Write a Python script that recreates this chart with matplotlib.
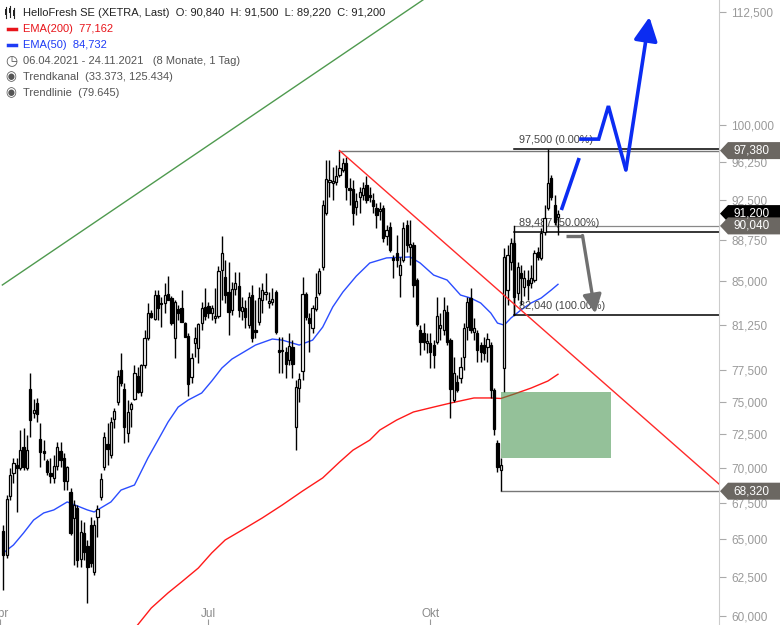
import matplotlib
matplotlib.use('Agg')
import matplotlib.pyplot as plt
from matplotlib.patches import Rectangle, Polygon
from matplotlib.lines import Line2D
from matplotlib.ticker import FixedLocator, NullLocator, FixedFormatter
import numpy as np
import pandas as pd

plt.rcParams['font.family'] = ['Liberation Sans', 'DejaVu Sans']

# trading days 06.04.2021 - 24.11.2021, first day lies left of the visible area
dates = pd.bdate_range('2021-04-06', '2021-11-24')

opens = [65.54, 63.93, 67.98, 69.62, 70.20, 69.98, 71.53, 69.98, 75.98, 74.11,
         74.89, 72.13, 71.24, 70.50, 69.62, 69.26, 70.13, 71.24, 70.72, 69.05,
         68.26, 66.44, 67.14, 63.67, 65.41, 64.54, 65.96, 62.81, 66.51, 67.91,
         70.06, 71.75, 70.94, 73.65, 74.97, 77.50, 75.98, 72.58, 74.42, 75.20,
         77.02, 75.75, 77.90, 80.12, 82.24, 81.73, 83.79, 83.10, 83.10, 83.88,
         83.53, 80.12, 82.59, 82.67, 81.38, 80.29, 76.94, 79.70, 79.29, 81.38,
         82.76, 82.84, 82.24, 81.81, 81.99, 86.00, 85.37, 84.05, 82.50, 84.32,
         84.58, 82.41, 82.67, 81.21, 83.79, 80.79, 81.47, 83.36, 83.88, 83.10,
         83.19, 84.05, 79.13, 79.05, 78.96, 78.31, 79.37, 73.04, 76.06, 77.42,
         83.88, 81.81, 80.96, 82.59, 83.97, 86.27, 91.25, 94.24, 94.14, 94.24,
         94.93, 95.43, 96.13, 93.65, 93.56, 91.83, 92.79, 92.98, 93.95, 92.98,
         92.50, 91.73, 91.44, 91.73, 89.10, 89.94, 87.08, 87.54, 85.55, 86.90,
         90.12, 88.08, 88.27, 85.11, 80.79, 80.54, 79.70, 79.70, 79.54, 79.79,
         80.96, 80.79, 82.33, 79.95, 75.12, 76.54, 76.86, 78.56, 81.04, 83.53,
         80.62, 80.54, 79.54, 79.54, 79.37, 79.54, 75.90, 71.83, 69.84, 77.66,
         84.23, 86.72, 88.46, 83.97, 85.73, 84.49, 85.11, 84.85, 85.11, 87.63,
         87.08, 89.47, 91.73, 94.63, 92.02, 90.84]
highs = [65.96, 68.05, 69.98, 70.72, 70.72, 72.81, 72.96, 72.43, 77.26, 75.20,
         75.28, 73.34, 72.05, 70.64, 70.72, 70.94, 71.90, 71.90, 71.09, 70.13,
         68.54, 67.70, 67.35, 66.30, 66.16, 64.94, 66.51, 66.30, 67.35, 69.62,
         72.66, 73.34, 73.80, 74.50, 77.50, 78.88, 76.46, 75.12, 74.97, 77.90,
         77.74, 77.98, 80.79, 83.10, 82.50, 84.23, 84.23, 83.62, 84.85, 85.46,
         83.71, 83.36, 82.93, 84.23, 81.47, 80.54, 78.88, 81.04, 81.38, 83.19,
         84.41, 83.19, 82.93, 84.41, 86.36, 89.10, 86.90, 86.72, 84.93, 85.82,
         85.82, 83.62, 83.36, 84.05, 84.67, 83.36, 84.49, 84.85, 85.73, 84.05,
         84.41, 84.23, 80.20, 80.20, 79.37, 80.54, 79.95, 76.70, 77.26, 85.37,
         84.05, 82.24, 82.93, 85.73, 86.18, 92.50, 96.43, 96.43, 95.73, 95.93,
         97.38, 96.63, 96.73, 94.63, 94.44, 93.17, 93.75, 94.24, 94.83, 93.75,
         93.17, 92.21, 92.31, 92.02, 90.12, 90.40, 87.36, 89.19, 87.17, 90.40,
         90.59, 90.59, 88.55, 85.29, 81.21, 81.38, 80.54, 80.54, 79.95, 83.62,
         82.24, 83.62, 82.93, 80.12, 78.56, 77.10, 78.56, 81.38, 83.62, 84.41,
         81.81, 80.79, 79.79, 80.20, 80.54, 79.79, 76.06, 72.05, 70.72, 88.00,
         88.27, 88.92, 88.73, 86.72, 86.45, 86.00, 86.00, 86.45, 87.81, 88.08,
         89.85, 92.02, 97.50, 94.93, 92.98, 91.50]
lows = [61.65, 63.73, 67.70, 68.90, 66.86, 69.84, 69.84, 69.84, 72.28, 73.72,
        73.42, 70.06, 70.57, 69.48, 68.90, 68.90, 69.84, 70.06, 68.40, 68.40,
        65.27, 63.27, 63.14, 63.14, 63.60, 60.82, 63.14, 62.61, 65.14, 67.70,
        69.84, 70.20, 70.72, 72.96, 74.73, 76.22, 71.83, 71.90, 73.04, 75.12,
        75.67, 75.43, 77.66, 79.95, 81.81, 81.64, 81.64, 81.04, 82.24, 83.36,
        81.21, 78.47, 81.64, 81.47, 80.20, 75.43, 76.46, 78.56, 78.07, 80.79,
        81.64, 81.81, 81.64, 81.38, 81.81, 83.36, 83.10, 80.37, 82.07, 83.79,
        81.90, 81.64, 80.96, 80.96, 79.79, 80.12, 81.21, 82.24, 83.36, 82.67,
        82.93, 80.45, 77.26, 77.26, 76.86, 77.90, 76.86, 71.31, 74.97, 76.70,
        81.64, 78.96, 80.54, 82.41, 83.79, 86.00, 91.06, 92.79, 92.50, 93.95,
        94.73, 95.23, 92.50, 92.02, 90.12, 91.06, 91.25, 92.50, 92.21, 92.31,
        91.25, 89.85, 90.59, 88.55, 88.27, 87.63, 85.29, 86.27, 83.62, 86.72,
        87.63, 86.45, 83.62, 81.13, 78.72, 79.13, 78.88, 77.66, 77.66, 79.62,
        79.95, 80.37, 79.54, 73.72, 74.97, 75.75, 76.46, 77.50, 79.95, 80.54,
        79.95, 78.15, 78.15, 78.31, 78.15, 75.28, 72.43, 69.70, 68.32, 75.75,
        82.93, 86.00, 82.07, 83.36, 82.93, 83.71, 83.36, 84.41, 84.93, 86.90,
        86.90, 89.19, 91.54, 92.50, 90.12, 89.22]
closes = [63.93, 67.77, 69.48, 70.35, 69.98, 71.31, 70.06, 71.31, 73.57, 74.34,
          74.03, 71.16, 71.09, 69.70, 69.41, 70.13, 71.53, 70.57, 69.05, 70.06,
          65.41, 67.35, 63.60, 65.47, 64.14, 63.14, 63.40, 65.96, 67.07, 69.19,
          72.28, 71.38, 73.42, 74.26, 77.02, 76.46, 73.04, 74.19, 74.81, 77.26,
          75.75, 77.90, 80.12, 82.24, 81.90, 83.79, 82.67, 83.02, 83.79, 83.36,
          81.38, 83.19, 82.24, 81.47, 80.20, 76.38, 78.47, 80.12, 81.30, 82.67,
          81.99, 82.24, 82.67, 81.99, 85.91, 87.54, 83.79, 82.33, 84.32, 84.85,
          82.50, 82.76, 81.90, 83.62, 80.12, 80.62, 83.53, 84.23, 84.05, 83.27,
          83.45, 80.62, 78.96, 79.13, 77.98, 79.46, 77.98, 76.14, 76.78, 83.88,
          81.90, 81.38, 82.67, 83.62, 85.91, 92.02, 94.54, 94.44, 94.34, 94.83,
          95.63, 96.13, 93.75, 93.46, 91.25, 92.40, 93.27, 93.65, 92.50, 92.79,
          91.92, 91.06, 91.63, 88.92, 89.66, 87.81, 86.90, 86.90, 86.45, 89.85,
          88.27, 88.36, 84.67, 81.30, 79.79, 79.79, 79.87, 78.96, 78.72, 81.99,
          81.21, 82.50, 79.79, 75.98, 77.26, 75.90, 77.74, 80.96, 83.19, 80.79,
          80.96, 79.13, 78.96, 78.88, 80.04, 75.90, 72.89, 70.06, 70.20, 87.17,
          87.36, 88.46, 83.62, 86.27, 85.29, 85.29, 84.67, 85.29, 87.54, 87.17,
          89.38, 90.78, 94.14, 92.79, 90.40, 91.20]

# moving averages (day number, value)
ema50_day = [1, 4, 7, 10, 13, 16, 20, 23, 26, 28, 30, 33, 36, 40, 44, 47, 50, 53, 56, 60,
             63, 66, 69, 72, 76, 81, 84, 89, 93, 96, 99, 102, 106, 110, 115, 122, 125, 129,
             133, 137, 140, 143, 146, 148, 150, 152, 155, 158, 161, 164, 166]
ema50_val = [64.07, 64.60, 65.41, 66.30, 66.79, 67.00, 67.56, 67.28, 67.00, 66.86,
             67.14, 67.56, 68.40, 68.76, 70.72, 72.05, 73.42, 74.57, 75.12, 75.67,
             76.62, 77.66, 78.39, 78.88, 79.54, 80.04, 79.95, 79.54, 79.95, 81.04,
             82.76, 84.05, 85.46, 86.63, 87.09, 87.18, 86.63, 85.55, 85.11, 83.79,
             83.53, 83.10, 82.24, 81.38, 81.21, 81.81, 82.50, 83.10, 83.53, 84.23, 84.73]
ema200_day = [40, 45, 50, 54, 59, 63, 67, 72, 78, 84, 90, 96, 101, 105, 110, 113, 118, 123,
              129, 134, 141, 146, 149, 153, 158, 163, 166]
ema200_val = [59.20, 60.50, 61.46, 62.16, 63.07, 64.07, 64.94, 65.61, 66.44, 67.35,
              68.33, 69.27, 70.42, 71.30, 72.05, 72.81, 73.57, 74.19, 74.57, 74.88,
              75.28, 75.28, 75.24, 75.59, 76.06, 76.62, 77.16]

y_ticks = [60, 62.5, 65, 67.5, 70, 72.5, 75, 77.5, 81.25, 85, 88.75, 92.5, 96.25, 100, 112.5]
month_names = {4: 'Apr', 7: 'Jul', 10: 'Okt'}

fib_levels = [97.5, 89.487, 82.04]
fib_labels = ['97,500 (0.00%)', '89,487 (50.00%)', '82,040 (100.00%)']
last_price = 90.04
peak_price = 97.38
low_price = 68.32
close_price = 91.20

o = np.array(opens); h = np.array(highs); l = np.array(lows); c = np.array(closes)
x = np.arange(1, len(o) + 1)

fig = plt.figure(figsize=(7.8, 6.25), dpi=100)
ax = fig.add_axes([0, 0, 719 / 780, 1])
ax.set_yscale('log')
ax.set_xlim(0.7, 213.9)
ax.set_ylim(59.44, 113.9)

# EMAs and trend channel
ax.plot(ema50_day, ema50_val, color='#2b4dff', lw=1.0, zorder=2)
ax.plot(ema200_day, ema200_val, color='#ff1a1a', lw=1.0, zorder=2)
ax.plot([0.7, 125.8], [84.67, 113.9], color='#4f9a4f', lw=1.0, zorder=2)

# candles
up = c >= o
ax.vlines(x, l, h, color='black', lw=1.0, zorder=3)
body = np.maximum(np.abs(c - o), 0.06)
ax.bar(x, body, bottom=np.minimum(o, c), width=0.66,
       color=np.where(up, 'white', 'black'), edgecolor='black', linewidth=0.9, zorder=4)

xr = ax.get_xlim()[1]
i_peak = int(np.argmax(h[:120])) + 1
i_low = int(np.argmin(l[120:])) + 121
i_fib = i_low + 4

# trend line from the September peak, horizontal marks
ax.plot([i_peak, xr], [peak_price, 68.83], color='#ff2a2a', lw=1.0, zorder=5)
ax.plot([i_peak, xr], [peak_price, peak_price], color='#777777', lw=1.0, zorder=2)
ax.plot([i_low, xr], [low_price, low_price], color='#777777', lw=1.0, zorder=2)

# gap box
ax.add_patch(Rectangle((i_low, h[i_low - 1]), 32.8, l[i_low] - h[i_low - 1],
                       facecolor='#3d8f45', alpha=0.55, edgecolor='none', zorder=5))

# fibonacci retracement
ax.plot([i_fib, xr], [last_price, last_price], color='#888888', lw=0.9, zorder=2)
for lev, lab in zip(fib_levels, fib_labels):
    ax.plot([i_fib, xr], [lev, lev], color='black', lw=1.1, zorder=2)
    ax.annotate(lab, (i_fib + 1.3, lev), xytext=(0, 3), textcoords='offset points',
                fontsize=7.8, color='#444444', va='bottom', ha='left', zorder=2)
ax.plot([i_fib, i_fib], [fib_levels[2], last_price], color='black', lw=1.0, zorder=2)

# scenario arrows
blue = '#0b2cf2'
ax.plot([167.0, 172.3], [91.54, 96.63], color=blue, lw=2.6, solid_capstyle='butt', zorder=6)
ax.plot([172.3, 178.1, 181.0, 186.2], [98.55, 98.55, 102.0, 95.43], color=blue, lw=2.6,
        solid_joinstyle='miter', solid_capstyle='butt', zorder=6)
ax.annotate('', xy=(193.2, 111.9), xytext=(186.2, 95.43),
            arrowprops=dict(arrowstyle='-|>,head_length=0.8,head_width=0.4', color=blue,
                            lw=2.6, shrinkA=0, shrinkB=0, mutation_scale=18), zorder=6)
grey = '#707070'
ax.plot([168.5, 173.3], [89.14, 89.14], color=grey, lw=2.4, solid_capstyle='butt', zorder=6)
ax.annotate('', xy=(177.1, 82.2), xytext=(173.3, 89.14),
            arrowprops=dict(arrowstyle='-|>,head_length=0.8,head_width=0.4', color=grey,
                            lw=2.4, shrinkA=0, shrinkB=0, mutation_scale=14), zorder=6)

# axes styling
for s in ['top', 'left', 'bottom']:
    ax.spines[s].set_visible(False)
ax.spines['right'].set_color('#cccccc')
ax.yaxis.tick_right()
ax.yaxis.set_major_locator(FixedLocator(y_ticks))
ax.yaxis.set_minor_locator(NullLocator())
ax.yaxis.set_major_formatter(FixedFormatter([('%.3f' % v).replace('.', ',') for v in y_ticks]))
ax.tick_params(axis='y', colors='#aaaaaa', labelcolor='#9a9a9a', length=5, width=0.8,
               labelsize=8.5, pad=4)

month_pos = [i for i in range(len(dates)) if dates[i].month in month_names
             and (i == 0 or dates[i - 1].month != dates[i].month)]
ax.set_xticks(month_pos)
ax.tick_params(axis='x', direction='in', length=4, color='#999999', labelbottom=False)
for p in month_pos:
    ax.text(p, 0.0176, month_names[dates[p].month], transform=ax.get_xaxis_transform(),
            ha='center', va='center', fontsize=8.5, color='#8a8a8a', clip_on=True)

# price boxes on the right axis
W, H = 780.0, 625.0
def price_box(price, color):
    yd = ax.transData.transform((1, price))[1]
    pts = [(720, yd), (728, yd + 8.5), (780, yd + 8.5), (780, yd - 8.5), (728, yd - 8.5)]
    fig.add_artist(Polygon([(px / W, py / H) for px, py in pts], closed=True,
                           facecolor=color, edgecolor='none', transform=fig.transFigure,
                           zorder=10))
    fig.text(733 / W, yd / H, ('%.3f' % price).replace('.', ','), color='white',
             fontsize=8.5, va='center', ha='left', zorder=11)

price_box(peak_price, '#6b6762')
price_box(close_price, '#000000')
price_box(last_price, '#6b6762')
price_box(low_price, '#6b6762')

# legend block
def ftxt(px, py, s, color, size=8, **kw):
    fig.text(px / W, 1 - py / H, s, color=color, fontsize=size, va='center', ha='left', **kw)

for dx, y0, y1, b0, b1 in [(6, 7, 18, 9, 15), (10, 6, 17, 8, 13), (14, 8, 18, 10, 16)]:
    fig.add_artist(Line2D([dx / W, dx / W], [1 - y0 / H, 1 - y1 / H], color='#222222', lw=0.8))
    fig.add_artist(Rectangle(((dx - 1.3) / W, 1 - b1 / H), 2.6 / W, (b1 - b0) / H,
                             facecolor='#222222', transform=fig.transFigure))
ftxt(23, 13, 'HelloFresh SE (XETRA, Last)  O: 90,840  H: 91,500  L: 89,220  C: 91,200', '#222222')
fig.add_artist(Line2D([8 / W, 16 / W], [1 - 29 / H, 1 - 29 / H], color='#e8141a', lw=2.5))
ftxt(23, 29, 'EMA(200)  77,162', '#e8141a')
fig.add_artist(Line2D([8 / W, 16 / W], [1 - 45 / H, 1 - 45 / H], color='#1f3cf5', lw=2.5))
ftxt(23, 45, 'EMA(50)  84,732', '#1f3cf5')
ftxt(5, 61, '\u25f7', '#555555', size=10, family='DejaVu Sans')
ftxt(23, 61, '06.04.2021 - 24.11.2021   (8 Monate, 1 Tag)', '#555555')
ftxt(5.5, 77, '\u25c9', '#555555', size=9, family='DejaVu Sans')
ftxt(23, 77, 'Trendkanal  (33.373, 125.434)', '#555555')
ftxt(5.5, 93, '\u25c9', '#555555', size=9, family='DejaVu Sans')
ftxt(23, 93, 'Trendlinie  (79.645)', '#555555')

fig.savefig('out.png', dpi=100)
